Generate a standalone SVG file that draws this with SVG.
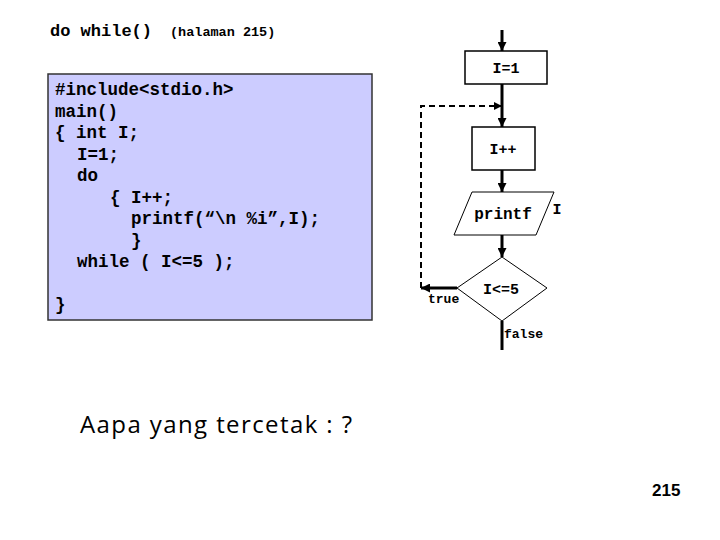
<svg xmlns="http://www.w3.org/2000/svg" width="720" height="540" viewBox="0 0 720 540">
<defs>
<marker id="ah" viewBox="0 0 10 10" refX="10" refY="5" markerWidth="3" markerHeight="3" orient="auto" markerUnits="strokeWidth">
<path d="M0,0 L10,5 L0,10 z" fill="#000"/>
</marker>
</defs>
<style>
.code{font-family:"Liberation Mono","Courier New",monospace;font-weight:bold;font-size:17.5px;fill:#000}
.fc{font-family:"Liberation Mono","Courier New",monospace;font-weight:bold;fill:#000}
.thick{stroke:#000;stroke-width:3;fill:none}
.box{stroke:#000;stroke-width:1.5;fill:#fff}
.thin{stroke:#000;stroke-width:1;fill:#fff}
</style>
<rect width="720" height="540" fill="#fff"/>
<g id="title">
<text x="50" y="36" class="fc" font-size="17">do while()</text>
<text x="170" y="36" class="fc" font-size="13.5">(halaman 215)</text>
</g>
<g id="codebox">
<rect x="48" y="74" width="324" height="246" fill="#ccccff" stroke="#333" stroke-width="1.5"/>
<text class="code" x="55" y="95">#include&lt;stdio.h&gt;</text>
<text class="code" x="55" y="117">main()</text>
<text class="code" x="55" y="138">{ int I;</text>
<text class="code" x="77" y="160">I=1;</text>
<text class="code" x="77" y="181">do</text>
<text class="code" x="110" y="203">{ I++;</text>
<text class="code" x="131" y="224">printf(“\n %i”,I);</text>
<text class="code" x="131" y="246">}</text>
<text class="code" x="77" y="267">while ( I&lt;=5 );</text>
<text class="code" x="55" y="310">}</text>
</g>
<g id="connectors">
<line class="thick" x1="502" y1="30" x2="502" y2="51" marker-end="url(#ah)"/>
<line class="thick" x1="502" y1="84" x2="502" y2="127" marker-end="url(#ah)"/>
<line class="thick" x1="502" y1="170" x2="502" y2="192" marker-end="url(#ah)"/>
<line class="thick" x1="502" y1="235" x2="502" y2="257" marker-end="url(#ah)"/>
<line class="thick" x1="502" y1="321" x2="502" y2="350"/>
<line class="thick" x1="457" y1="288" x2="421" y2="288" marker-end="url(#ah)"/>
<path d="M421,288 L421,106 L501,106" stroke="#000" stroke-width="2" fill="none" stroke-dasharray="6,4"/>
<path d="M494,102 L502,106 L494,110 z" fill="#000"/>
</g>
<g id="n-init">
<rect class="box" x="465" y="51" width="82" height="33"/>
<text class="fc" font-size="15" x="506" y="73" text-anchor="middle">I=1</text>
</g>
<g id="n-inc">
<rect class="box" x="472" y="127" width="63" height="43"/>
<text class="fc" font-size="15" x="503" y="154" text-anchor="middle">I++</text>
</g>
<g id="n-printf">
<polygon class="thin" points="472,192 554,192 536,235 454,235"/>
<text class="fc" font-size="16" x="503" y="219" text-anchor="middle">printf</text>
<text class="fc" font-size="15" x="557" y="214" text-anchor="middle">I</text>
</g>
<g id="n-cond">
<polygon class="thin" points="502,257 547,288 502,321 457,288"/>
<text class="fc" font-size="15" x="501" y="294" text-anchor="middle">I&lt;=5</text>
<text class="fc" font-size="13" x="428" y="303">true</text>
<text class="fc" font-size="13" x="504" y="338">false</text>
</g>
<g id="question">
<text x="80" y="433" font-family="'Comic Sans MS','Open Sans',sans-serif" font-size="24" fill="#000" textLength="272" lengthAdjust="spacing">Aapa yang tercetak : ?</text>
</g>
<g id="pagenum">
<text x="652" y="496" font-family="'Liberation Sans',Arial,sans-serif" font-weight="bold" font-size="17" fill="#000">215</text>
</g>
</svg>
